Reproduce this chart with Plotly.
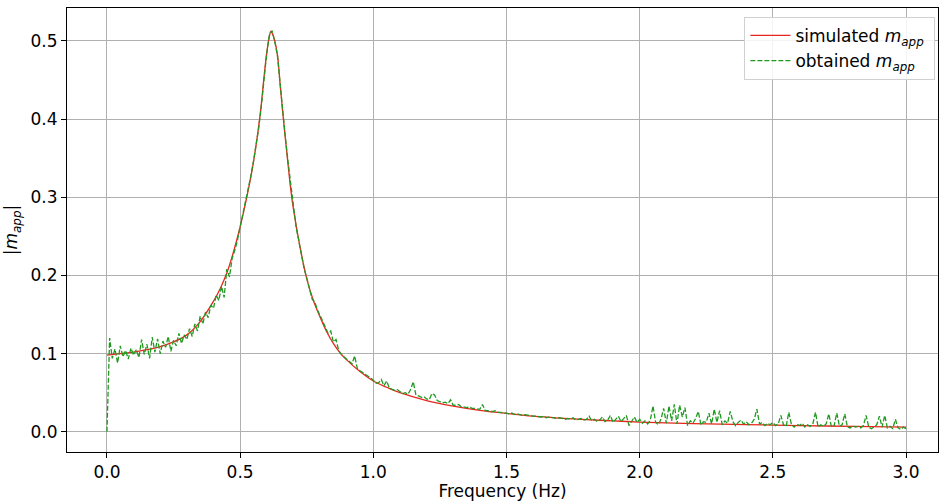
import numpy as np
import plotly.graph_objects as go

# Simulated |m_app| (smooth curve)
sim_freq = [0.0, 0.05, 0.1, 0.15, 0.2, 0.25, 0.3, 0.35, 0.4, 0.425, 0.45, 0.475,
            0.5, 0.525, 0.55, 0.575, 0.59, 0.6, 0.61, 0.615, 0.62, 0.63, 0.64,
            0.65, 0.66, 0.675, 0.69, 0.7, 0.725, 0.75, 0.775, 0.8, 0.825, 0.85,
            0.875, 0.9, 0.95, 1.0, 1.05, 1.1, 1.2, 1.3, 1.4, 1.5, 1.6, 1.7, 1.8,
            1.9, 2.0, 2.2, 2.4, 2.6, 2.8, 3.0]
sim_mapp = [0.098, 0.100, 0.102, 0.105, 0.109, 0.115, 0.124, 0.141, 0.167, 0.183,
            0.203, 0.230, 0.262, 0.300, 0.345, 0.405, 0.455, 0.485, 0.506, 0.512,
            0.510, 0.500, 0.482, 0.445, 0.408, 0.358, 0.310, 0.285, 0.236, 0.196,
            0.168, 0.147, 0.128, 0.113, 0.101, 0.092, 0.077, 0.065, 0.057, 0.050,
            0.040, 0.033, 0.0275, 0.0235, 0.020, 0.0175, 0.0155, 0.014, 0.0125,
            0.0105, 0.0093, 0.008, 0.007, 0.006]

# Obtained |m_app| (noisy measurement), sampled every 0.01 Hz from 0.00 to 3.00
FREQ_STEP = 0.01
obt_mapp = [
    0.000, 0.120, 0.094, 0.106, 0.088, 0.110, 0.096, 0.104, 0.093, 0.107,   # 0.0
    0.098, 0.105, 0.095, 0.118, 0.099, 0.112, 0.094, 0.121, 0.102, 0.119,   # 0.1
    0.100, 0.116, 0.108, 0.122, 0.103, 0.117, 0.110, 0.126, 0.113, 0.124,   # 0.2
    0.118, 0.132, 0.122, 0.138, 0.129, 0.148, 0.138, 0.153, 0.146, 0.162,   # 0.3
    0.158, 0.175, 0.168, 0.186, 0.172, 0.208, 0.198, 0.222, 0.232, 0.245,   # 0.4
    0.262, 0.278, 0.293, 0.309, 0.327, 0.346, 0.366, 0.389, 0.418, 0.452,   # 0.5
    0.484, 0.508, 0.513, 0.499, 0.481, 0.446, 0.407, 0.376, 0.345, 0.316,   # 0.6
    0.286, 0.262, 0.245, 0.228, 0.209, 0.197, 0.185, 0.170, 0.166, 0.156,   # 0.7
    0.149, 0.141, 0.134, 0.126, 0.129, 0.115, 0.118, 0.104, 0.099, 0.096,   # 0.8
    0.092, 0.089, 0.087, 0.097, 0.081, 0.078, 0.076, 0.073, 0.072, 0.069,   # 0.9
    0.066, 0.062, 0.063, 0.067, 0.059, 0.065, 0.056, 0.055, 0.053, 0.054,   # 1.0
    0.051, 0.049, 0.050, 0.048, 0.054, 0.064, 0.047, 0.046, 0.044, 0.045,   # 1.1
    0.042, 0.041, 0.049, 0.047, 0.040, 0.038, 0.037, 0.038, 0.036, 0.041,   # 1.2
    0.034, 0.034, 0.035, 0.032, 0.032, 0.031, 0.032, 0.030, 0.030, 0.029,   # 1.3
    0.029, 0.035, 0.027, 0.027, 0.026, 0.026, 0.027, 0.025, 0.025, 0.024,   # 1.4
    0.024, 0.023, 0.024, 0.022, 0.023, 0.022, 0.021, 0.022, 0.021, 0.020,   # 1.5
    0.020, 0.020, 0.019, 0.019, 0.020, 0.018, 0.019, 0.018, 0.018, 0.017,   # 1.6
    0.018, 0.017, 0.016, 0.017, 0.016, 0.018, 0.015, 0.016, 0.017, 0.015,   # 1.7
    0.016, 0.020, 0.014, 0.016, 0.013, 0.015, 0.019, 0.013, 0.015, 0.021,   # 1.8
    0.012, 0.016, 0.020, 0.013, 0.017, 0.021, 0.008, 0.014, 0.019, 0.012,   # 1.9
    0.016, 0.011, 0.014, 0.010, 0.015, 0.033, 0.012, 0.009, 0.016, 0.030,   # 2.0
    0.011, 0.033, 0.014, 0.035, 0.010, 0.034, 0.019, 0.031, 0.008, 0.014,   # 2.1
    0.011, 0.017, 0.026, 0.009, 0.013, 0.012, 0.024, 0.010, 0.029, 0.012,   # 2.2
    0.027, 0.009, 0.014, 0.011, 0.026, 0.013, 0.008, 0.012, 0.015, 0.010,   # 2.3
    0.013, 0.009, 0.011, 0.016, 0.029, 0.010, 0.012, 0.008, 0.011, 0.009,   # 2.4
    0.012, 0.008, 0.010, 0.021, 0.009, 0.007, 0.025, 0.009, 0.006, 0.010,   # 2.5
    0.008, 0.011, 0.006, 0.009, 0.007, 0.010, 0.025, 0.006, 0.009, 0.007,   # 2.6
    0.010, 0.023, 0.006, 0.008, 0.024, 0.007, 0.009, 0.023, 0.006, 0.005,   # 2.7
    0.008, 0.006, 0.007, 0.005, 0.008, 0.021, 0.006, 0.004, 0.007, 0.009,   # 2.8
    0.020, 0.006, 0.021, 0.005, 0.007, 0.004, 0.016, 0.005, 0.003, 0.006,   # 2.9
    0.004,                                                                  # 3.0
]
obt_freq = np.round(np.arange(len(obt_mapp)) * FREQ_STEP, 2)

x_ticks = [0.0, 0.5, 1.0, 1.5, 2.0, 2.5, 3.0]
y_ticks = [0.0, 0.1, 0.2, 0.3, 0.4, 0.5]

FONT = "DejaVu Sans"
FS = 17

fig = go.Figure()
fig.add_trace(go.Scatter(
    x=sim_freq, y=sim_mapp, mode="lines", line_shape="spline",
    name="simulated <i>m</i><sub><i>app</i></sub>&nbsp;",
    line=dict(color="#e8261e", width=1.3),
))
fig.add_trace(go.Scatter(
    x=obt_freq, y=obt_mapp, mode="lines",
    name="obtained <i>m</i><sub><i>app</i></sub>&nbsp;",
    line=dict(color="#1f9a1f", width=1.3, dash="5px,2px"),
))

axis_common = dict(
    showline=True, linecolor="black", linewidth=1, mirror=True,
    ticks="outside", ticklen=5, tickwidth=1, tickcolor="black",
    showgrid=True, gridcolor="#b0b0b0", gridwidth=1, zeroline=False,
    tickfont=dict(family=FONT, size=FS, color="black"),
    tickformat=".1f", automargin=False,
)

fig.update_layout(
    width=939, height=501,
    margin=dict(l=67, r=1, t=8, b=49, autoexpand=False),
    paper_bgcolor="white", plot_bgcolor="white",
    font=dict(family=FONT, size=FS, color="black"),
    xaxis=dict(range=[-0.15, 3.12], tickvals=x_ticks,
               title=dict(text="Frequency (Hz)", font=dict(family=FONT, size=FS), standoff=0),
               **axis_common),
    yaxis=dict(range=[-0.0258, 0.542], tickvals=y_ticks,
               title=dict(text="|<i>m</i><sub><i>app</i></sub>|", font=dict(family=FONT, size=FS), standoff=8),
               **axis_common),
    legend=dict(x=0.997, y=0.98, xanchor="right", yanchor="top",
                bgcolor="rgba(255,255,255,0.85)", bordercolor="#d0d0d0", borderwidth=1,
                font=dict(family=FONT, size=FS), itemwidth=40, tracegroupgap=6),
    showlegend=True,
)

fig.write_html("out.html", config={"displayModeBar": False},
               post_script="document.body.style.margin='0';document.body.style.padding='0';")
